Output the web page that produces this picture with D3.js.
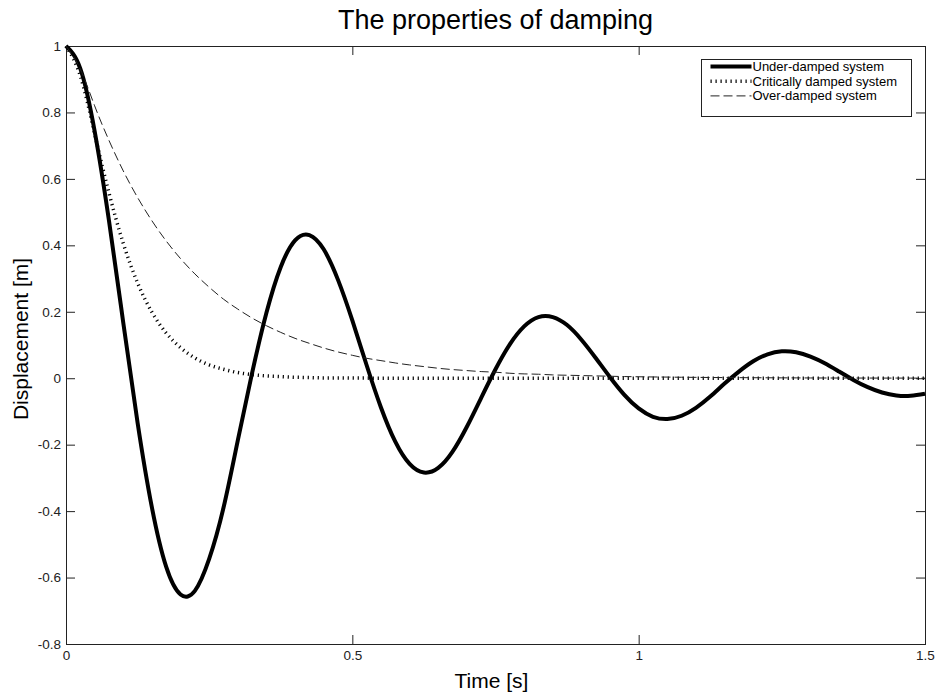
<!DOCTYPE html>
<html>
<head>
<meta charset="utf-8">
<script src="https://cdn.jsdelivr.net/npm/d3@7"></script>
<style>
  body { margin: 0; background: #fff; }
  text { font-family: "Liberation Sans", Arial, sans-serif; }
</style>
</head>
<body>
<div id="chart"></div>
<script>
// time axis shared by the three responses [s]
var time = [
  0, 0.025, 0.05, 0.075, 0.1, 0.125, 0.15, 0.175, 0.2, 0.225,
  0.25, 0.275, 0.3, 0.325, 0.35, 0.375, 0.4, 0.425, 0.45, 0.475,
  0.5, 0.525, 0.55, 0.575, 0.6, 0.625, 0.65, 0.675, 0.7, 0.725,
  0.75, 0.775, 0.8, 0.825, 0.85, 0.875, 0.9, 0.925, 0.95, 0.975,
  1, 1.025, 1.05, 1.075, 1.1, 1.125, 1.15, 1.175, 1.2, 1.225,
  1.25, 1.275, 1.3, 1.325, 1.35, 1.375, 1.4, 1.425, 1.45, 1.475, 1.5
];

// displacement [m]
var underDamped = [
  1, 0.932, 0.744, 0.475, 0.167, -0.134, -0.389, -0.568, -0.651, -0.640,
  -0.544, -0.390, -0.187, 0.016, 0.197, 0.335, 0.415, 0.431, 0.388, 0.296,
  0.174, 0.039, -0.088, -0.191, -0.258, -0.284, -0.270, -0.221, -0.146, -0.059,
  0.027, 0.102, 0.156, 0.184, 0.184, 0.160, 0.116, 0.061, 0.003, -0.050,
  -0.091, -0.116, -0.123, -0.113, -0.089, -0.055, -0.016, 0.020, 0.051, 0.072,
  0.081, 0.078, 0.065, 0.045, 0.020, -0.005, -0.027, -0.043, -0.052, -0.053, -0.047
];

var criticallyDamped = [
  1, 0.910, 0.736, 0.558, 0.406, 0.287, 0.199, 0.136, 0.092, 0.061,
  0.040, 0.027, 0.017, 0.011, 0.007, 0.005, 0.003, 0.002, 0.001, 0.001,
  0.0005, 0.0003, 0.0002, 0.0001, 0.0001, 0, 0, 0, 0, 0,
  0, 0, 0, 0, 0, 0, 0, 0, 0, 0,
  0, 0, 0, 0, 0, 0, 0, 0, 0, 0,
  0, 0, 0, 0, 0, 0, 0, 0, 0, 0, 0
];

var overDamped = [
  1, 0.930, 0.820, 0.716, 0.624, 0.544, 0.474, 0.413, 0.360, 0.314,
  0.274, 0.238, 0.208, 0.181, 0.158, 0.138, 0.120, 0.105, 0.091, 0.079,
  0.069, 0.060, 0.053, 0.046, 0.040, 0.035, 0.030, 0.026, 0.023, 0.020,
  0.018, 0.015, 0.013, 0.012, 0.010, 0.009, 0.008, 0.007, 0.006, 0.005,
  0.0044, 0.0038, 0.0034, 0.0029, 0.0026, 0.0022, 0.0019, 0.0017, 0.0015, 0.0013,
  0.0011, 0.0010, 0.0008, 0.0007, 0.0006, 0.0005, 0.0005, 0.0004, 0.0004, 0.0003, 0.0003
];

var seriesNames = ["Under-damped system", "Critically damped system", "Over-damped system"];
var xTicks = [0, 0.5, 1, 1.5];
var yTicks = [-0.8, -0.6, -0.4, -0.2, 0, 0.2, 0.4, 0.6, 0.8, 1];

var WIDTH = 935;
var HEIGHT = 693;
var LEFT = 66;
var RIGHT = 925;
var TOP = 46;
var BOTTOM = 644;
var TICK = 9;
var AXIS_COLOR = "#222";

var styles = [
  { width: 4, dash: null, color: "#000" },
  { width: 3.5, dash: "1.2,3.8", color: "#000" },
  { width: 1, dash: "9,4", color: "#222" }
];

var svg = d3.select("#chart")
  .append("svg")
  .attr("width", WIDTH)
  .attr("height", HEIGHT);

var x = d3.scaleLinear().domain([0, 1.5]).range([LEFT, RIGHT]);
var y = d3.scaleLinear().domain([-0.8, 1]).range([BOTTOM, TOP]);

var fmt = function(d) { return String(+d.toFixed(1)); };

var drawAxes = function() {
  var bottom = svg.append("g")
    .attr("transform", "translate(0," + BOTTOM + ")")
    .call(d3.axisBottom(x).tickValues(xTicks).tickFormat(fmt)
      .tickSizeInner(-TICK).tickSizeOuter(0).tickPadding(6));
  var left = svg.append("g")
    .attr("transform", "translate(" + LEFT + ",0)")
    .call(d3.axisLeft(y).tickValues(yTicks).tickFormat(fmt)
      .tickSizeInner(-TICK).tickSizeOuter(0).tickPadding(5));
  var top = svg.append("g")
    .attr("transform", "translate(0," + TOP + ")")
    .call(d3.axisTop(x).tickValues(xTicks).tickFormat("")
      .tickSizeInner(-TICK).tickSizeOuter(0));
  var right = svg.append("g")
    .attr("transform", "translate(" + RIGHT + ",0)")
    .call(d3.axisRight(y).tickValues(yTicks).tickFormat("")
      .tickSizeInner(-TICK).tickSizeOuter(0));

  [bottom, left, top, right].forEach(function(g) {
    g.select(".domain").remove();
    g.selectAll("line").attr("stroke", AXIS_COLOR);
    g.selectAll("text")
      .attr("fill", AXIS_COLOR)
      .style("font-size", "13.5px");
  });

  svg.append("rect")
    .attr("x", LEFT + 0.5)
    .attr("y", TOP + 0.5)
    .attr("width", RIGHT - LEFT)
    .attr("height", BOTTOM - TOP)
    .attr("fill", "none")
    .attr("stroke", AXIS_COLOR)
    .attr("stroke-width", 1);
};

var drawCurves = function() {
  var series = [underDamped, criticallyDamped, overDamped];
  var line = d3.line()
    .x(function(d, i) { return x(time[i]); })
    .y(function(d) { return y(d); })
    .curve(d3.curveNatural);

  series.forEach(function(values, k) {
    svg.append("path")
      .attr("d", line(values))
      .attr("fill", "none")
      .attr("stroke", styles[k].color)
      .attr("stroke-width", styles[k].width)
      .attr("stroke-dasharray", styles[k].dash)
      .attr("stroke-linejoin", "round");
  });
};

var drawLegend = function() {
  var lx = 701.5, ly = 59.5, lw = 210, lh = 57;
  svg.append("rect")
    .attr("x", lx)
    .attr("y", ly)
    .attr("width", lw)
    .attr("height", lh)
    .attr("fill", "#fff")
    .attr("stroke", AXIS_COLOR);

  seriesNames.forEach(function(name, k) {
    var rowY = ly + 7 + k * 14.7;
    svg.append("line")
      .attr("x1", lx + 9)
      .attr("x2", lx + 50)
      .attr("y1", rowY)
      .attr("y2", rowY)
      .attr("stroke", styles[k].color)
      .attr("stroke-width", styles[k].width)
      .attr("stroke-dasharray", styles[k].dash);
    svg.append("text")
      .attr("x", lx + 51)
      .attr("y", rowY)
      .attr("dy", "0.35em")
      .attr("fill", "#000")
      .style("font-size", "13px")
      .text(name);
  });
};

var drawLabels = function() {
  svg.append("text")
    .attr("x", (LEFT + RIGHT) / 2)
    .attr("y", 29)
    .attr("text-anchor", "middle")
    .style("font-size", "27px")
    .text("The properties of damping");

  svg.append("text")
    .attr("x", (LEFT + RIGHT) / 2 - 4)
    .attr("y", 688)
    .attr("text-anchor", "middle")
    .style("font-size", "21px")
    .text("Time [s]");

  svg.append("text")
    .attr("transform", "translate(28," + ((TOP + BOTTOM) / 2 - 6) + ") rotate(-90)")
    .attr("text-anchor", "middle")
    .style("font-size", "21px")
    .text("Displacement [m]");
};

drawAxes();
drawCurves();
drawLegend();
drawLabels();
</script>
</body>
</html>
